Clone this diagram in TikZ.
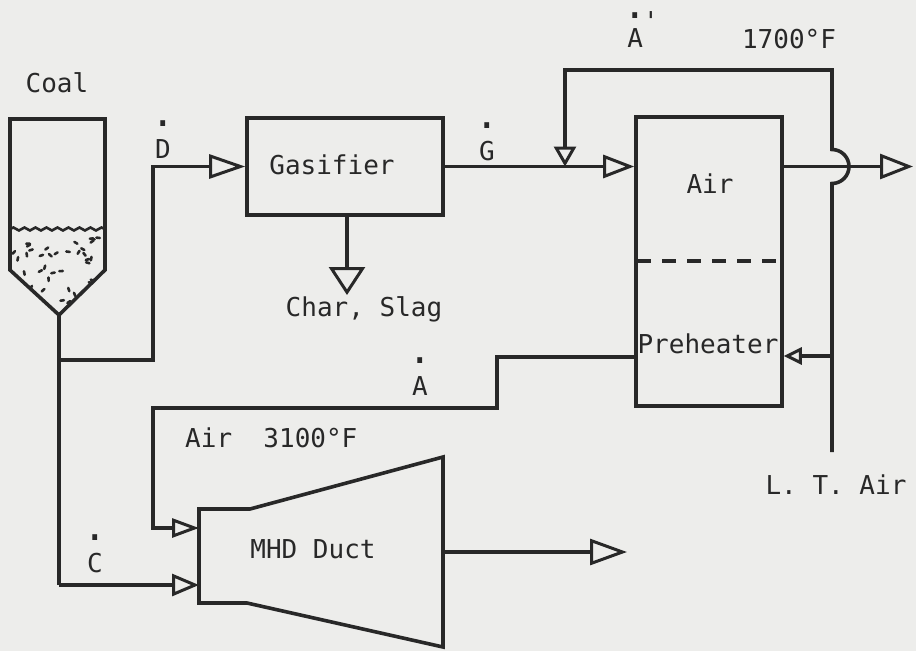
\documentclass[tikz,border=0pt]{standalone}
\usepackage{fontspec}
\setmonofont{DejaVu Sans Mono}
\usetikzlibrary{arrows.meta,decorations.pathmorphing}
\definecolor{ink}{RGB}{40,40,40}
\definecolor{paper}{RGB}{237,237,235}
\newcommand\dotup[1]{\makebox[0pt][l]{\makebox[0.602em]{\raisebox{#1}{\scalebox{1.5}{.}}}}}
\newcommand\dt[1]{\dotup{1.22em}#1}
\begin{document}
\begin{tikzpicture}[x=1pt,y=-1pt,
  lbl/.style={font=\ttfamily\fontsize{26}{28}\selectfont, text=ink, inner sep=0pt},
  pipe/.style={draw=ink, line width=3.6pt, line join=miter},
  tri/.style 2 args={pipe,-{Triangle[open,length=#1,width=#2,line width=3pt]}},
  box/.style={draw=ink, line width=3.6pt, inner sep=0pt, rectangle},
]
\fill[paper] (0,0) rectangle (916,651);
\useasboundingbox (0,0) rectangle (916,651);

% ---- coal hopper ----
\draw[pipe] (10,119) -- (10,270) -- (59,315) -- (105,270) -- (105,119) -- cycle;
\draw[ink, line width=2.6pt, decorate, decoration={snake, amplitude=1.5pt, segment length=11pt}] (10,229) -- (105,229);
\begin{scope}
\clip (12,232) -- (12,270) -- (59,313) -- (103,270) -- (103,232) -- cycle;
\pgfmathsetseed{12}
\foreach \i in {1,...,44}{
  \pgfmathsetmacro\px{14+rnd*88}
  \pgfmathsetmacro\py{237+rnd*66}
  \pgfmathsetmacro\pa{rnd*180}
  \draw[ink, line width=2.6pt, line cap=round] (\px,\py) -- ++(\pa:3.5);
}
\end{scope}
\coordinate (apex) at (59,315);
\node[lbl, anchor=base] (coal) at (57,92) {Coal};

% ---- gasifier ----
\node[box, minimum width=196pt, minimum height=97pt] (gas) at (345,166.5) {};
\node[lbl, anchor=base] (gastext) at (332,174) {Gasifier};
\coordinate (charout) at (347,215);
\coordinate (chartip) at (347,295);
\node[lbl, anchor=base] (char) at (364,316) {Char, Slag};

% ---- preheater ----
\node[box, minimum width=146pt, minimum height=289pt] (pre) at (709,261.5) {};
\draw[ink, line width=4pt, dash pattern=on 14pt off 11pt] (637,261) -- (781,261);
\node[lbl, anchor=base] (airtext) at (710,193) {Air};
\node[lbl, anchor=base] (pretext) at (708,353) {Preheater};

% ---- MHD duct ----
\draw[pipe] (199,509) -- (250,509) -- (443,457) -- (443,647) -- (247,603) -- (199,603) -- cycle;
\node[lbl, anchor=base] (mhdtext) at (313,558) {MHD Duct};
\coordinate (mhdair) at (199,528);
\coordinate (mhdcoal) at (199,585);
\coordinate (mhdout) at (443,552);
\coordinate (mhdtip) at (627,552);

% ---- coordinates ----
\coordinate (split) at (59,360);
\coordinate (mix) at (565,166.5);
\coordinate (lttop) at (832,70);
\coordinate (ltbot) at (832,452);
\coordinate (ltbranch) at (832,356);
\coordinate (outtip) at (913,166.5);

% ---- flows ----
\draw[pipe] (apex) -- (59,585);
\draw[tri={27pt}{22pt}] (59,585) -- (mhdcoal);
\draw[tri={36pt}{24pt}] (split) -- (153,360) -- (153,166.5) -- (gas.west);
\draw[tri={31pt}{23pt}] (gas.east) -- (pre.west |- gas.east);
\draw[tri={28pt}{36pt}] (charout) -- (chartip);
\draw[tri={33pt}{25pt}] (pre.east |- gas.east) -- (outtip);
\draw[tri={20pt}{22pt}] (ltbot) -- (832,183.5) arc[start angle=90, end angle=-90, radius=17] -- (lttop) -- (565,70) -- (mix);
\draw[tri={18pt}{17pt}] (ltbranch) -- (pre.east |- ltbranch);
\draw[tri={27pt}{19pt}] (pre.west |- 0,357) -- (497,357) -- (497,408) -- (153,408) -- (153,528) -- (mhdair);
\draw[tri={37pt}{26pt}] (mhdout) -- (mhdtip);

% ---- labels ----
\node[lbl, anchor=base] (dlabel) at (163,158) {\dt{D}};
\node[lbl, anchor=base] (glabel) at (487,160) {\dt{G}};
\node[lbl, anchor=base] (alabel) at (420,395) {\dt{A}};
\node[lbl, anchor=base] (clabel) at (95,572) {\dt{C}};
\node[lbl, anchor=base] (aplabel) at (643,47) {\dotup{1.08em}A\rlap{\raisebox{0.62em}{\char"0027}}\phantom{A}};
\node[lbl, anchor=base] (t1700) at (789,48) {1700°F};
\node[lbl, anchor=base west] (t3100) at (185,447) {Air~~3100°F};
\node[lbl, anchor=base] (ltair) at (836,494) {L. T. Air};
\end{tikzpicture}
\end{document}
